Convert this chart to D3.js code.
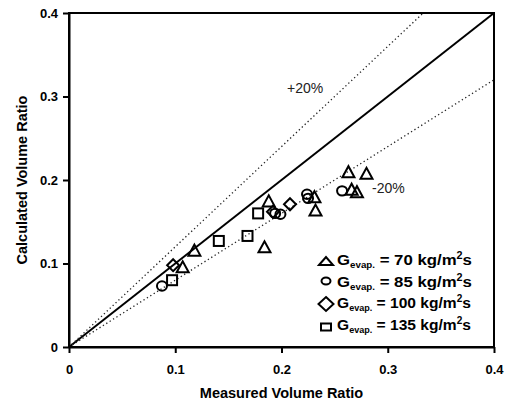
<!DOCTYPE html>
<html>
<head>
<meta charset="utf-8">
<script src="https://cdn.jsdelivr.net/npm/d3@7"></script>
<style>
  html, body { margin: 0; padding: 0; background: #fff; }
  svg { display: block; }
  text { font-family: "Liberation Sans", Arial, sans-serif; }
</style>
</head>
<body>
<svg id="chart" width="509" height="407"></svg>
<script>
// Measured vs calculated volume ratio, grouped by evaporator mass flux
const ticks = [0, 0.1, 0.2, 0.3, 0.4];
const tickLabels = ["0", "0.1", "0.2", "0.3", "0.4"];

const g70Measured   = [0.118, 0.107, 0.188, 0.184, 0.231, 0.232, 0.263, 0.280, 0.266, 0.271];
const g70Calculated = [0.116, 0.096, 0.175, 0.120, 0.180, 0.164, 0.210, 0.208, 0.189, 0.186];

const g85Measured   = [0.0875, 0.194, 0.199, 0.224, 0.225, 0.257];
const g85Calculated = [0.073, 0.160, 0.159, 0.183, 0.178, 0.187];

const g100Measured   = [0.098, 0.192, 0.208];
const g100Calculated = [0.098, 0.162, 0.171];

const g135Measured   = [0.097, 0.141, 0.168, 0.178];
const g135Calculated = [0.080, 0.127, 0.133, 0.160];

const seriesNames = ["70", "85", "100", "135"];
const bandFactors = [1.2, 0.8];
const bandLabels = ["+20%", "-20%"];

const svg = d3.select("#chart");
const margin = { left: 69, right: 14, top: 13, bottom: 60 };
const W = 509, H = 407;

const x = d3.scaleLinear().domain([0, 0.4]).range([margin.left, W - margin.right - 1]);
const y = d3.scaleLinear().domain([0, 0.4]).range([H - margin.bottom, margin.top]);

// reference lines: perfect agreement and +/-20% band
const line = d3.line().x(d => x(d[0])).y(d => y(d[1]));
svg.append("path")
  .attr("d", line([[0, 0], [0.4, 0.4]]))
  .attr("fill", "none").attr("stroke", "#000").attr("stroke-width", 2);

bandFactors.forEach(f => {
  const xe = Math.min(0.4, 0.4 / f);
  svg.append("path")
    .attr("d", line([[0, 0], [xe, xe * f]]))
    .attr("fill", "none").attr("stroke", "#222")
    .attr("stroke-width", 1.3).attr("stroke-dasharray", "1.3,2.7");
});

svg.append("text").attr("x", 287).attr("y", 93)
  .attr("font-size", 14).attr("fill", "#222").text(bandLabels[0]);
svg.append("text").attr("x", 372).attr("y", 193)
  .attr("font-size", 14).attr("fill", "#222").text(bandLabels[1]);

// frame
svg.append("rect")
  .attr("x", x(0)).attr("y", y(0.4))
  .attr("width", x(0.4) - x(0)).attr("height", y(0) - y(0.4))
  .attr("fill", "none").attr("stroke", "#000").attr("stroke-width", 2);

// axes
const xAxis = d3.axisBottom(x).tickValues(ticks).tickFormat((d, i) => tickLabels[i])
  .tickSizeOuter(0).tickSizeInner(6).tickPadding(12);
const yAxis = d3.axisLeft(y).tickValues(ticks).tickFormat((d, i) => tickLabels[i])
  .tickSizeOuter(0).tickSizeInner(6).tickPadding(5);

const gx = svg.append("g").attr("transform", `translate(0,${y(0)})`).call(xAxis);
const gy = svg.append("g").attr("transform", `translate(${x(0)},0)`).call(yAxis);
[gx, gy].forEach(g => {
  g.select(".domain").attr("stroke", "#000").attr("stroke-width", 2);
  g.selectAll(".tick line").attr("stroke", "#000").attr("stroke-width", 2);
  g.selectAll(".tick text").attr("fill", "#000")
    .attr("font-family", "Liberation Sans, Arial, sans-serif")
    .attr("font-size", 13).attr("font-weight", "bold");
});

svg.append("text").attr("x", (x(0) + x(0.4)) / 2).attr("y", 398)
  .attr("text-anchor", "middle").attr("font-size", 14.5).attr("font-weight", "bold")
  .text("Measured Volume Ratio");
svg.append("text")
  .attr("transform", `translate(27,${(y(0) + y(0.4)) / 2}) rotate(-90)`)
  .attr("text-anchor", "middle").attr("font-size", 14.5).attr("font-weight", "bold")
  .text("Calculated Volume Ratio");

// marker shapes; hw/hh are half width and half height
function marker(g, kind, cx, cy, hw, hh) {
  let el;
  if (kind === 0) {
    el = g.append("path").attr("d", `M${cx - hw},${cy + hh}L${cx},${cy - hh}L${cx + hw},${cy + hh}Z`);
  } else if (kind === 1) {
    el = g.append("ellipse").attr("cx", cx).attr("cy", cy).attr("rx", hw).attr("ry", hh);
  } else if (kind === 2) {
    el = g.append("path").attr("d", `M${cx},${cy - hh}L${cx + hw},${cy}L${cx},${cy + hh}L${cx - hw},${cy}Z`);
  } else {
    el = g.append("rect").attr("x", cx - hw).attr("y", cy - hh).attr("width", 2 * hw).attr("height", 2 * hh);
  }
  el.attr("fill", "none").attr("stroke", "#000").attr("stroke-width", 2);
}

const series = [
  [g70Measured, g70Calculated],
  [g85Measured, g85Calculated],
  [g100Measured, g100Calculated],
  [g135Measured, g135Calculated]
];
const markerHalf = [[6, 5.5], [5, 4.7], [6, 6], [5, 5]];
const pts = svg.append("g");
series.forEach(([mx, cy], k) => {
  mx.forEach((v, i) => marker(pts, k, x(v), y(cy[i]), markerHalf[k][0], markerHalf[k][1]));
});

// legend
const legend = svg.append("g");
const legendMarkY = [261, 281, 304, 327];
const legendHalf = [[7, 4], [4.5, 3.5], [7.5, 7], [5, 3.5]];
const legendBase = [265, 287, 308, 330];
seriesNames.forEach((name, i) => {
  marker(legend, i, 326, legendMarkY[i], legendHalf[i][0], legendHalf[i][1]);
  const t = legend.append("text").attr("x", 0).attr("y", 0)
    .attr("font-size", 15.5).attr("font-weight", "bold");
  t.append("tspan").text("G");
  t.append("tspan").attr("font-size", 9).attr("dy", 3).text("evap.");
  t.append("tspan").attr("dy", -3).text(name.length < 3 ? " =  " + name + " kg/m" : " = " + name + " kg/m");
  t.append("tspan").attr("font-size", 10).attr("dy", -6).text("2");
  t.append("tspan").attr("dy", 6).text("s");
  const w = t.node().getComputedTextLength();
  const target = name.length < 3 ? 135 : 134;
  t.attr("transform", `translate(337,${legendBase[i]}) scale(${target / w},1)`);
});
</script>
</body>
</html>
